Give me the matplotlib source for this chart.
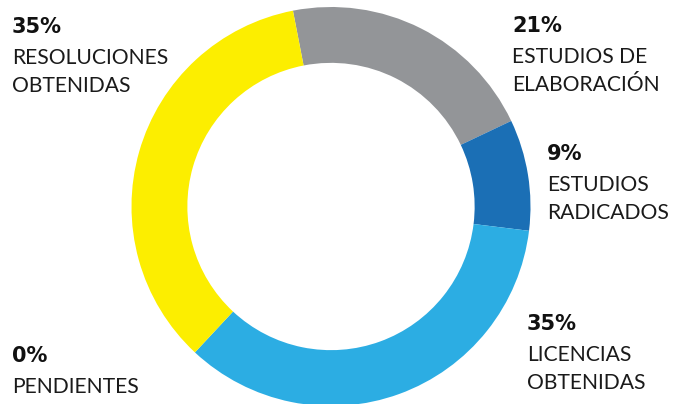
import matplotlib.pyplot as plt

W, H = 677, 404

shares = [21, 9, 35, 35, 0]
pcts = ["21%", "9%", "35%", "35%", "0%"]
names = ["ESTUDIOS DE\nELABORACIÓN", "ESTUDIOS\nRADICADOS", "LICENCIAS\nOBTENIDAS",
         "RESOLUCIONES\nOBTENIDAS", "PENDIENTES"]
colors = ["#939598", "#1b6fb5", "#2cade3", "#fcee00", "#cccccc"]

# where each label block sits (left x, baseline of the % line), pixels from top-left
label_pos = [(512, 32), (547, 160), (527, 330), (12, 33), (12, 362)]

fig = plt.figure(figsize=(W / 100, H / 100), dpi=100)

cx, cy, R = 331, 206.5, 199.5
ax = fig.add_axes([(cx - R) / W, (H - cy - R) / H, 2 * R / W, 2 * R / H])
ax.pie(shares, colors=colors, startangle=101, counterclock=False,
       radius=1, wedgeprops=dict(width=0.28, linewidth=0))
ax.set_xlim(-1, 1)
ax.set_ylim(-1, 1)
ax.axis("off")

for (x, y), p, n in zip(label_pos, pcts, names):
    fig.text(x / W, 1 - y / H, p, fontsize=15, fontweight="bold",
             family="DejaVu Sans", color="#111111", va="baseline", ha="left")
    for i, line in enumerate(n.split("\n")):
        fig.text(x / W, 1 - (y + 31 + 28 * i) / H, line, fontsize=15.2,
                 fontweight="normal", family="Lato", color="#1a1a1a",
                 va="baseline", ha="left")

fig.savefig("out.png", dpi=100)
